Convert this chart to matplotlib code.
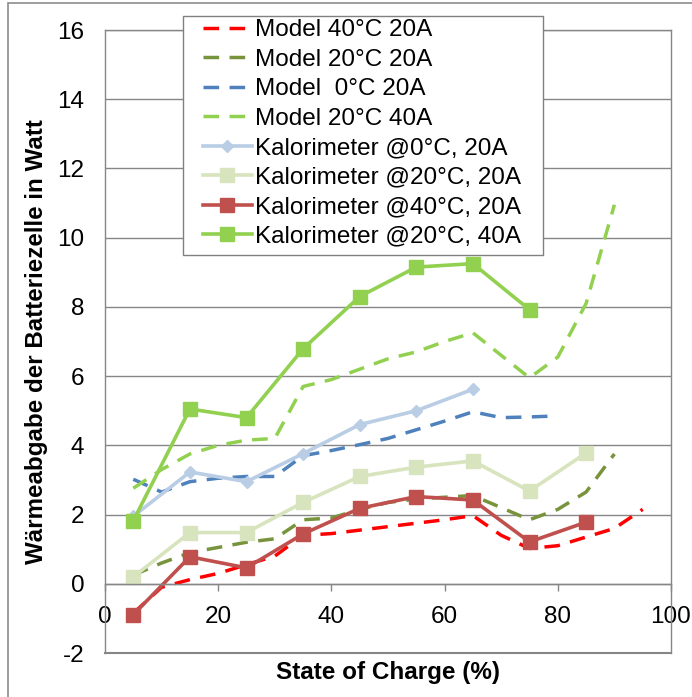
import matplotlib
matplotlib.use("Agg")
from matplotlib import pyplot as plt
from matplotlib.patches import Rectangle

plt.rcParams['font.family'] = ['Liberation Sans', 'DejaVu Sans']
plt.rcParams['axes.unicode_minus'] = False

# Messwerte (Kalorimeter) bei SOC 5..85 %
soc_meas = [5, 15, 25, 35, 45, 55, 65, 75, 85]
kal_0c_20a = [1.95, 3.23, 2.95, 3.76, 4.6, 5.0, 5.62]
kal_20c_20a = [0.2, 1.48, 1.48, 2.35, 3.1, 3.37, 3.55, 2.68, 3.78]
kal_40c_20a = [-0.89, 0.78, 0.46, 1.44, 2.18, 2.52, 2.42, 1.21, 1.78]
kal_20c_40a = [1.82, 5.05, 4.8, 6.79, 8.3, 9.15, 9.25, 7.92]

# Modellkurven
soc_model = [5, 10, 15, 20, 25, 30, 35, 40, 45, 50, 55, 60, 65, 70, 75, 80, 85, 90, 95]
model_40c_20a = [-0.85, -0.1, 0.12, 0.3, 0.55, 0.8, 1.4, 1.45, 1.55, 1.65, 1.75, 1.85,
                 1.97, 1.4, 1.02, 1.1, 1.35, 1.6, 2.15]
model_20c_20a = [0.25, 0.6, 0.9, 1.05, 1.2, 1.3, 1.85, 1.9, 2.15, 2.35, 2.45, 2.5,
                 2.55, 2.2, 1.85, 2.15, 2.65, 3.75]
model_0c_20a = [3.02, 2.65, 2.95, 3.05, 3.1, 3.1, 3.7, 3.85, 4.02, 4.2, 4.45, 4.7,
                4.97, 4.8, 4.82, 4.85]
model_20c_40a = [2.76, 3.3, 3.75, 4.0, 4.15, 4.2, 5.7, 5.9, 6.2, 6.5, 6.7, 7.0,
                 7.25, 6.6, 5.95, 6.55, 8.1, 10.95]

fig = plt.figure(figsize=(6.92, 6.97), dpi=100)
ax = fig.add_axes([105/692, 1 - 653/697, 566/692, 623/697])

grid_col = '#868686'
dash = (0, (4.5, 3.0))

ax.plot(soc_model[:len(model_40c_20a)], model_40c_20a, color='#FF0000', lw=2.5, ls=dash,
        label='Model 40°C 20A')
ax.plot(soc_model[:len(model_20c_20a)], model_20c_20a, color='#77933C', lw=2.5, ls=dash,
        label='Model 20°C 20A')
ax.plot(soc_model[:len(model_0c_20a)], model_0c_20a, color='#4F81BD', lw=2.5, ls=dash,
        label='Model  0°C 20A')
ax.plot(soc_model[:len(model_20c_40a)], model_20c_40a, color='#92D050', lw=2.5, ls=dash,
        label='Model 20°C 40A')
ax.plot(soc_meas[:len(kal_0c_20a)], kal_0c_20a, color='#B9CDE5', lw=2.6, marker='D',
        ms=6.5, label='Kalorimeter @0°C, 20A')
ax.plot(soc_meas[:len(kal_20c_20a)], kal_20c_20a, color='#D7E4BD', lw=2.6, marker='s',
        ms=9.5, label='Kalorimeter @20°C, 20A')
ax.plot(soc_meas[:len(kal_40c_20a)], kal_40c_20a, color='#C0504D', lw=2.6, marker='s',
        ms=9.5, label='Kalorimeter @40°C, 20A')
ax.plot(soc_meas[:len(kal_20c_40a)], kal_20c_40a, color='#92D050', lw=2.6, marker='s',
        ms=9.5, label='Kalorimeter @20°C, 40A')

ax.set_xlim(0, 100)
ax.set_ylim(-2, 16)
ax.set_xticks(range(0, 101, 20))
ax.set_yticks(range(-2, 17, 2))
for yv in range(0, 17, 2):
    ax.axhline(yv, color=grid_col, lw=1, zorder=0.5)

# Rahmen der Zeichenfläche, x-Achse liegt bei y = 0
for s in ['left', 'right', 'top', 'bottom']:
    ax.spines[s].set_color(grid_col)
    ax.spines[s].set_linewidth(1)
ax.spines['bottom'].set_position(('data', 0))
ax.axhline(-2, color=grid_col, lw=1.5, clip_on=False)

ax.tick_params(axis='y', length=0, pad=15, labelsize=17.5)
ax.tick_params(axis='x', length=5, width=1, color=grid_col, direction='out', pad=11,
               labelsize=17.5)

fig.text(37/692, 1 - 342/697, 'Wärmeabgabe der Batteriezelle in Watt', rotation=90,
         ha='center', va='center', fontsize=17.4, fontweight='bold')
fig.text(388/692, 1 - 673/697, 'State of Charge (%)', ha='center', va='center',
         fontsize=17.5, fontweight='bold')

# Legendenrahmen separat, Legende selbst ohne Rahmen
fig.patches.append(Rectangle((183/692, 1 - 255/697), 360/692, 239/697,
                             transform=fig.transFigure, facecolor='white',
                             edgecolor='#808080', lw=1, zorder=4))
leg = fig.legend(*ax.get_legend_handles_labels(), loc='upper left',
                 bbox_to_anchor=(203/692, 1 - 19/697), borderaxespad=0, borderpad=0,
                 fontsize=17.5, frameon=False, handlelength=2.0,
                 handletextpad=0.15, labelspacing=0.31)
leg.set_zorder(5)

fig.patches.append(Rectangle((8/692, -0.1), 1.2, 1 - 3/697 + 0.1, transform=fig.transFigure,
                             fill=False, edgecolor='#8c8c8c', lw=1.2))

fig.savefig('out.png', dpi=100)
